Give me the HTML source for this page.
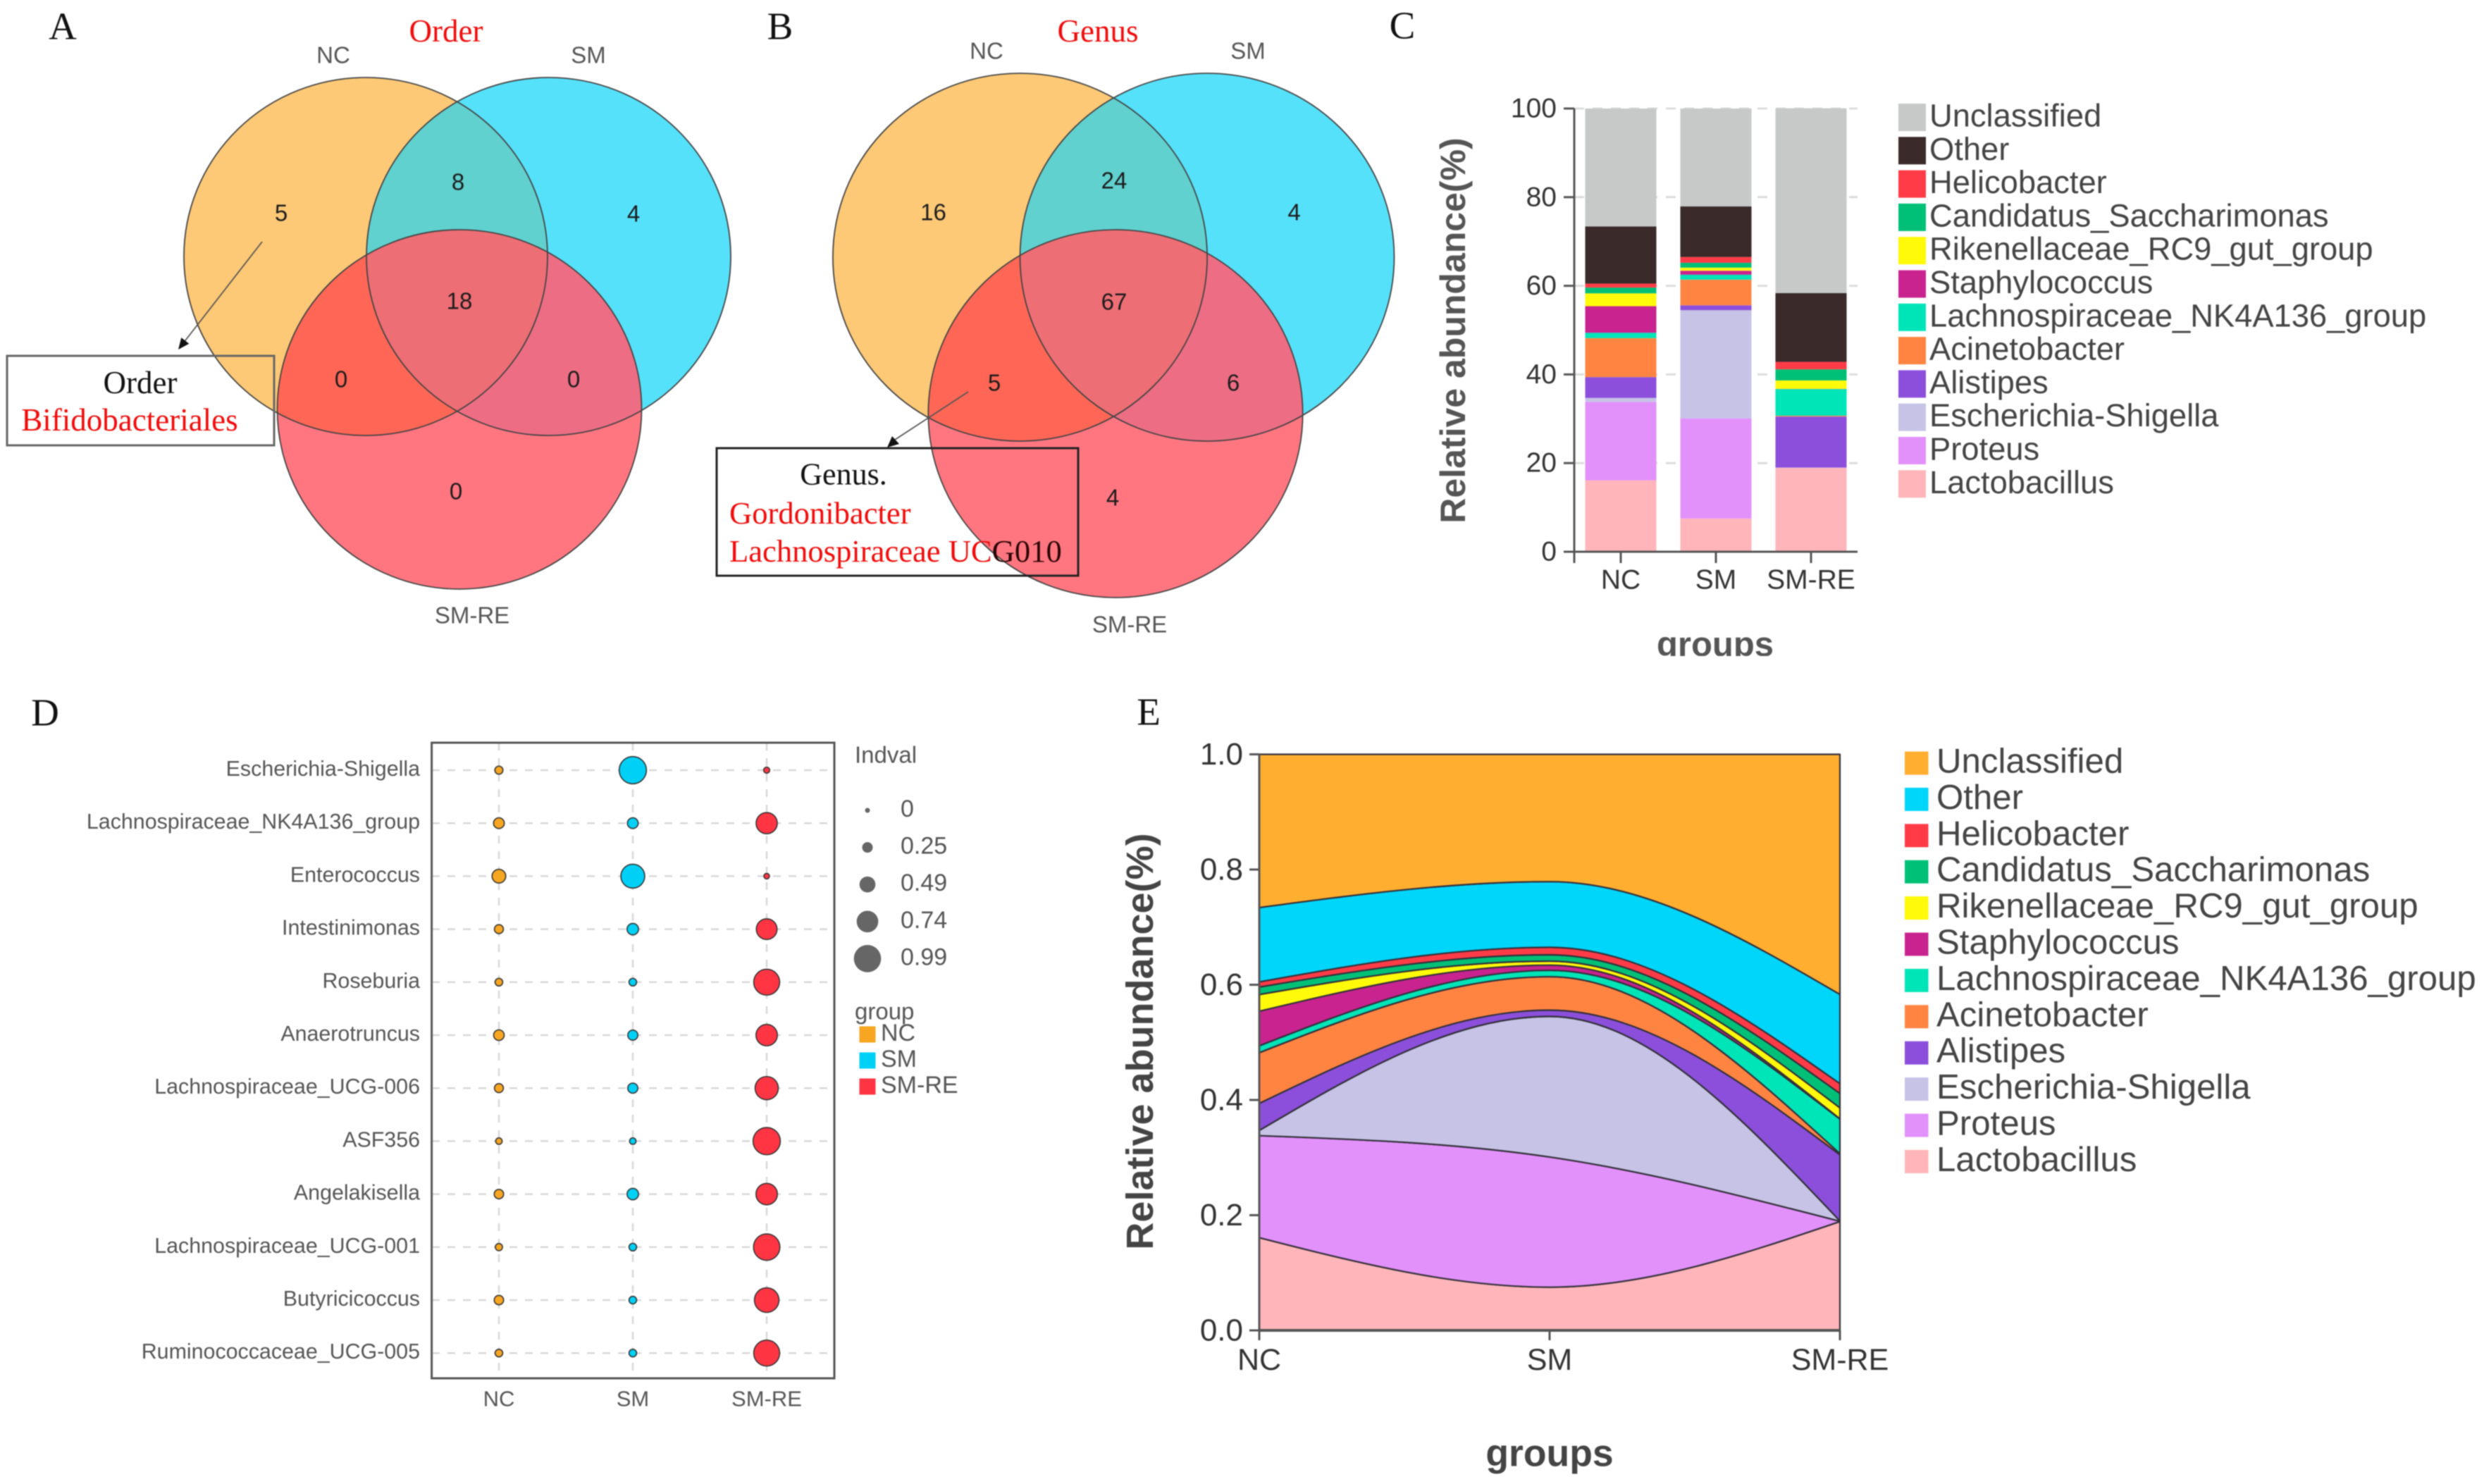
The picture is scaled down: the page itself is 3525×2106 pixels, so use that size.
<!DOCTYPE html>
<html lang="en">
<head>
<meta charset="utf-8">
<title>Microbiome composition figure</title>
<style>
html,body{margin:0;padding:0;background:#fff;}
body{width:3525px;height:2106px;overflow:hidden;}
svg{display:block;filter:blur(0.9px);}
text{font-family:"Liberation Sans",Arial,sans-serif;}
.serif{font-family:"Liberation Serif","Times New Roman",serif;}
.c{text-anchor:middle;dominant-baseline:central;}
.num{font-size:33px;fill:#1c1c1c;}
.vl{font-size:33px;fill:#555;}
.red{fill:#f00b0b;}
.pl{font-size:55px;fill:#111;}
.ln{fill:none;stroke:#444;stroke-width:1.8;}
</style>
</head>
<body>
<svg id="fig" xmlns="http://www.w3.org/2000/svg" width="3525" height="2106" viewBox="0 0 3525 2106">
<rect width="3525" height="2106" fill="#fff"/>
<defs>
<clipPath id="anc"><ellipse cx="519" cy="364" rx="258" ry="254"/></clipPath>
<clipPath id="asm"><ellipse cx="778.5" cy="364" rx="258.5" ry="254"/></clipPath>
<clipPath id="bnc"><ellipse cx="1447.5" cy="365" rx="265.6" ry="261"/></clipPath>
<clipPath id="bsm"><ellipse cx="1713" cy="365" rx="265.5" ry="261"/></clipPath>
</defs>

<!-- Panel A -->
<g>
<text class="serif c pl" x="89" y="37">A</text>
<text class="serif c red" x="633" y="44" font-size="45">Order</text>
<ellipse cx="519" cy="364" rx="258" ry="254" fill="#fdc976"/>
<ellipse cx="778.5" cy="364" rx="258.5" ry="254" fill="#56e1fb"/>
<ellipse cx="652" cy="581" rx="258.5" ry="255" fill="#ff7681"/>
<ellipse cx="778.5" cy="364" rx="258.5" ry="254" fill="#60d1cf" clip-path="url(#anc)"/>
<ellipse cx="652" cy="581" rx="258.5" ry="255" fill="#ff6656" clip-path="url(#anc)"/>
<ellipse cx="652" cy="581" rx="258.5" ry="255" fill="#ed6e84" clip-path="url(#asm)"/>
<g clip-path="url(#anc)"><ellipse cx="652" cy="581" rx="258.5" ry="255" fill="#ee6e75" clip-path="url(#asm)"/></g>
<ellipse class="ln" cx="519" cy="364" rx="258" ry="254"/>
<ellipse class="ln" cx="778.5" cy="364" rx="258.5" ry="254"/>
<ellipse class="ln" cx="652" cy="581" rx="258.5" ry="255"/>
<text class="c vl" x="473" y="78">NC</text>
<text class="c vl" x="835" y="78">SM</text>
<text class="c vl" x="670" y="873">SM-RE</text>
<text class="c num" x="399" y="302">5</text>
<text class="c num" x="650" y="258">8</text>
<text class="c num" x="899" y="303">4</text>
<text class="c num" x="652" y="427">18</text>
<text class="c num" x="484" y="538">0</text>
<text class="c num" x="814" y="538">0</text>
<text class="c num" x="647" y="697">0</text>
<line x1="372" y1="343" x2="260" y2="487" stroke="#555" stroke-width="1.8"/>
<polygon points="253,496 268.3,487.7 257.3,479.1" fill="#111"/>
<rect x="10" y="505" width="379" height="127" fill="none" stroke="#666" stroke-width="3"/>
<text class="serif c" x="199" y="543" font-size="45" fill="#111">Order</text>
<text class="serif c red" x="184" y="596" font-size="45">Bifidobacteriales</text>
</g>

<!-- Panel B -->
<g>
<text class="serif c pl" x="1107" y="37">B</text>
<text class="serif c red" x="1558" y="44" font-size="45">Genus</text>
<ellipse cx="1447.5" cy="365" rx="265.6" ry="261" fill="#fdc976"/>
<ellipse cx="1713" cy="365" rx="265.5" ry="261" fill="#56e1fb"/>
<ellipse cx="1583" cy="587" rx="265.7" ry="261" fill="#ff7681"/>
<ellipse cx="1713" cy="365" rx="265.5" ry="261" fill="#60d1cf" clip-path="url(#bnc)"/>
<ellipse cx="1583" cy="587" rx="265.7" ry="261" fill="#ff6656" clip-path="url(#bnc)"/>
<ellipse cx="1583" cy="587" rx="265.7" ry="261" fill="#ed6e84" clip-path="url(#bsm)"/>
<g clip-path="url(#bnc)"><ellipse cx="1583" cy="587" rx="265.7" ry="261" fill="#ee6e75" clip-path="url(#bsm)"/></g>
<ellipse class="ln" cx="1447.5" cy="365" rx="265.6" ry="261"/>
<ellipse class="ln" cx="1713" cy="365" rx="265.5" ry="261"/>
<ellipse class="ln" cx="1583" cy="587" rx="265.7" ry="261"/>
<text class="c vl" x="1400" y="72">NC</text>
<text class="c vl" x="1771" y="72">SM</text>
<text class="c vl" x="1603" y="886">SM-RE</text>
<text class="c num" x="1324.5" y="301">16</text>
<text class="c num" x="1581" y="256">24</text>
<text class="c num" x="1836.5" y="301">4</text>
<text class="c num" x="1581" y="428">67</text>
<text class="c num" x="1411" y="543">5</text>
<text class="c num" x="1750" y="543">6</text>
<text class="c num" x="1579" y="706">4</text>
<line x1="1374" y1="556" x2="1270" y2="624" stroke="#555" stroke-width="1.8"/>
<polygon points="1259,635 1276,630 1266,619" fill="#111"/>
<rect x="1017" y="636" width="513" height="181" fill="none" stroke="#222" stroke-width="3"/>
<text class="serif c" x="1197" y="673" font-size="44" fill="#111">Genus.</text>
<text class="serif red" x="1035" y="728" dominant-baseline="central" font-size="44.6">Gordonibacter</text>
<text class="serif" x="1035" y="782" dominant-baseline="central" font-size="44.6" fill="#f00b0b">Lachnospiraceae UC<tspan fill="#2a0505">G010</tspan></text>
</g>

<text class="serif c pl" x="1990" y="36">C</text>
<text class="serif c pl" x="64" y="1011">D</text>
<text class="serif c pl" x="1630" y="1010">E</text>

<g id="panelC"></g>
<g id="panelD"></g>
<g id="panelE"></g>
</svg>

<script>
// ---- data (percent; order NC, SM, SM-RE) ----
const groups = ['NC', 'SM', 'SM-RE'];
const taxaLegendOrder = ['Unclassified','Other','Helicobacter','Candidatus_Saccharimonas','Rikenellaceae_RC9_gut_group','Staphylococcus','Lachnospiraceae_NK4A136_group','Acinetobacter','Alistipes','Escherichia-Shigella','Proteus','Lactobacillus'];
const lactobacillus = [16.1, 7.5, 18.9];
const proteus = [17.7, 22.6, 0.05];
const escherichia = [0.9, 24.4, 0.05];
const alistipes = [4.7, 1.1, 11.5];
const acinetobacter = [8.8, 5.8, 0.2];
const lachnospiraceaeNK = [1.2, 1.1, 6.0];
const staphylococcus = [6.0, 0.9, 0.05];
const rikenellaceae = [2.9, 0.7, 1.9];
const saccharimonas = [1.3, 1.1, 2.5];
const helicobacter = [0.9, 1.3, 1.7];
const other = [12.9, 11.4, 15.5];
const unclassified = [26.6, 22.1, 41.7];

const yTicksC = [0, 20, 40, 60, 80, 100];
const yTicksE = [0, 0.2, 0.4, 0.6, 0.8, 1.0];

// Panel D
const indicatorTaxa = ['Escherichia-Shigella','Lachnospiraceae_NK4A136_group','Enterococcus','Intestinimonas','Roseburia','Anaerotruncus','Lachnospiraceae_UCG-006','ASF356','Angelakisella','Lachnospiraceae_UCG-001','Butyricicoccus','Ruminococcaceae_UCG-005'];
const indvalNC = [0.14, 0.26, 0.39, 0.18, 0.12, 0.25, 0.18, 0.07, 0.2, 0.1, 0.2, 0.12];
const indvalSM = [0.99, 0.26, 0.84, 0.29, 0.12, 0.23, 0.23, 0.07, 0.29, 0.12, 0.12, 0.12];
const indvalRE = [0.05, 0.72, 0.03, 0.7, 0.93, 0.73, 0.81, 0.99, 0.73, 0.95, 0.87, 0.93];
const indvalLegendValues = [0, 0.25, 0.49, 0.74, 0.99];

const NS = 'http://www.w3.org/2000/svg';
const colorsC = ['#c6c9c8','#3a2a2a','#ff3b47','#00c078','#fff90a','#c8238f','#00e5b8','#ff8442','#8b4fdb','#c6c3e6','#e291fb','#ffb5b9'];
const colorsE = ['#ffae30','#00d5fa','#ff3b47','#00c078','#fff90a','#c8238f','#00e5b8','#ff8442','#8b4fdb','#c6c3e6','#e291fb','#ffb5b9'];
const groupColors = ['#f7a621','#00d0f5','#ff3543'];
const stackBottomUp = [lactobacillus, proteus, escherichia, alistipes, acinetobacter, lachnospiraceaeNK, staphylococcus, rikenellaceae, saccharimonas, helicobacter, other, unclassified];

function mk(tag, parent, attrs, text) {
  const el = document.createElementNS(NS, tag);
  for (const k in attrs) el.setAttribute(k, attrs[k]);
  if (text !== undefined) el.textContent = text;
  parent.appendChild(el);
  return el;
}
function cumulative(groupIndex) {
  const out = [0];
  let sum = 0;
  stackBottomUp.forEach(function (s) { sum += s[groupIndex]; out.push(sum); });
  return out;
}

// ---- Panel C ----
(function () {
  const g = document.getElementById('panelC');
  const yC = function (v) { return 783 - v * 6.29; };
  const xC = function (i) { return 2300 + i * 135; };
  const barW = 101;
  yTicksC.forEach(function (t) {
    const grid = mk('line', g, {x1:2234, x2:2636, y1:yC(t), y2:yC(t), stroke:'#dcdcdc', 'stroke-width':3, 'stroke-dasharray':'14 12'});
    
    
    const tick = mk('line', g, {x1:2219, x2:2234, y1:yC(t), y2:yC(t), stroke:'#555', 'stroke-width':3});
    
    
    const lab = mk('text', g, {x:2209, y:yC(t), 'text-anchor':'end', 'dominant-baseline':'central', 'font-size':39, fill:'#333'}, String(t));
    
    
  });
  groups.forEach(function (name, i) {
    const cum = cumulative(i);
    stackBottomUp.forEach(function (s, k) {
      const bar = mk('rect', g, {x:xC(i) - barW / 2, width:barW, y:yC(cum[k + 1]), height:Math.max(0, yC(cum[k]) - yC(cum[k + 1])), fill:colorsC[11 - k]});
      
      
    });
    const tick = mk('line', g, {x1:xC(i), x2:xC(i), y1:783, y2:799, stroke:'#555', 'stroke-width':3});
    
    
    const lab = mk('text', g, {x:xC(i), y:823, 'text-anchor':'middle', 'dominant-baseline':'central', 'font-size':39, fill:'#333'}, name);
    
    
  });
  const yAxis = mk('line', g, {x1:2234, x2:2234, y1:yC(100), y2:799, stroke:'#555', 'stroke-width':3});
  
  
  const xAxis = mk('line', g, {x1:2234, x2:2636, y1:783, y2:783, stroke:'#555', 'stroke-width':3});
  
  
  const yTitle = mk('text', g, {transform:'translate(2062 469) rotate(-90)', 'text-anchor':'middle', 'dominant-baseline':'central', 'font-size':50, 'font-weight':'bold', fill:'#555'}, 'Relative abundance(%)');
  
  
  const xTitle = mk('text', g, {x:2434, y:915, 'text-anchor':'middle', 'dominant-baseline':'central', 'font-size':49, 'font-weight':'bold', fill:'#555'}, 'groups');
  
  
  const crop = mk('rect', g, {x:2340, y:931, width:190, height:30, fill:'#fff'});
  
  
  taxaLegendOrder.forEach(function (name, i) {
    const y = 167 + i * 47.3;
    const sw = mk('rect', g, {x:2694, y:y - 20, width:39, height:39, fill:colorsC[i]});
    
    
    const lab = mk('text', g, {x:2738, y:y - 3, 'dominant-baseline':'central', 'font-size':45.3, fill:'#444'}, name);
    
    
  });
})();

// ---- Panel D ----
(function () {
  const g = document.getElementById('panelD');
  const colX = function (i) { return 708 + i * 190; };
  const rowY = function (i) { return 1093 + i * 75.2; };
  const rad = function (v) { return 3.5 + 16 * v; };
  const cols = [indvalNC, indvalSM, indvalRE];
  indicatorTaxa.forEach(function (name, r) {
    const line = mk('line', g, {x1:613, x2:1184, y1:rowY(r), y2:rowY(r), stroke:'#d8d8d8', 'stroke-width':2.5, 'stroke-dasharray':'11 11'});
    
    
    const lab = mk('text', g, {x:596, y:rowY(r) - 2, 'text-anchor':'end', 'dominant-baseline':'central', 'font-size':30.4, fill:'#555'}, name);
    
    
  });
  groups.forEach(function (name, c) {
    const line = mk('line', g, {x1:colX(c), x2:colX(c), y1:1054, y2:1956, stroke:'#d8d8d8', 'stroke-width':2.5, 'stroke-dasharray':'11 11'});
    
    
    const lab = mk('text', g, {x:colX(c), y:1985, 'text-anchor':'middle', 'dominant-baseline':'central', 'font-size':31, fill:'#555'}, name);
    
    
  });
  cols.forEach(function (vals, c) {
    vals.forEach(function (v, r) {
      const dot = mk('circle', g, {cx:colX(c), cy:rowY(r), r:rad(v), fill:groupColors[c], stroke:'#333', 'stroke-width':1.6});
      
      
    });
  });
  const frame = mk('rect', g, {x:612.6, y:1054, width:571.4, height:902, fill:'none', stroke:'#555', 'stroke-width':3});
  
  
  const sizeTitle = mk('text', g, {x:1213, y:1071, 'dominant-baseline':'central', 'font-size':33, fill:'#555'}, 'Indval');
  
  
  indvalLegendValues.forEach(function (v, i) {
    const y = 1150 + i * 52.6;
    const dot = mk('circle', g, {cx:1231, cy:y, r:rad(v), fill:'#666'});
    
    
    const lab = mk('text', g, {x:1278, y:y - 2, 'dominant-baseline':'central', 'font-size':34, fill:'#555'}, String(v));
    
    
  });
  const groupTitle = mk('text', g, {x:1213, y:1435, 'dominant-baseline':'central', 'font-size':33, fill:'#555'}, 'group');
  
  
  groups.forEach(function (name, i) {
    const y = 1468 + i * 37;
    const sw = mk('rect', g, {x:1219.5, y:y - 11.5, width:23, height:23, fill:groupColors[i]});
    
    
    const lab = mk('text', g, {x:1250, y:y - 2, 'dominant-baseline':'central', 'font-size':34, fill:'#555'}, name);
    
    
  });
})();

// ---- Panel E ----
(function () {
  const g = document.getElementById('panelE');
  const x0 = 1787, x1 = 2611, y0 = 1888, y1 = 1070.5;
  const xE = function (i) { return x0 + i * (x1 - x0) / 2; };
  const yE = function (frac) { return y0 - frac * (y0 - y1); };
  function sign(a) { return a < 0 ? -1 : 1; }
  function slopes(ys, h) {
    const s0 = (ys[1] - ys[0]) / h, s1 = (ys[2] - ys[1]) / h;
    const p = (s0 + s1) / 2;
    const m1 = (sign(s0) + sign(s1)) * Math.min(Math.abs(s0), Math.abs(s1), 0.5 * Math.abs(p)) || 0;
    return [(3 * s0 - m1) / 2, m1, (3 * s1 - m1) / 2];
  }
  function curve(ys, forward) {
    const h = (x1 - x0) / 2, m = slopes(ys, h);
    let d = '';
    if (forward) {
      for (let i = 0; i < 2; i++) {
        d += 'C' + (xE(i) + h / 3) + ' ' + (ys[i] + m[i] * h / 3) + ' ' + (xE(i + 1) - h / 3) + ' ' + (ys[i + 1] - m[i + 1] * h / 3) + ' ' + xE(i + 1) + ' ' + ys[i + 1];
      }
    } else {
      for (let i = 2; i > 0; i--) {
        d += 'C' + (xE(i) - h / 3) + ' ' + (ys[i] - m[i] * h / 3) + ' ' + (xE(i - 1) + h / 3) + ' ' + (ys[i - 1] + m[i - 1] * h / 3) + ' ' + xE(i - 1) + ' ' + ys[i - 1];
      }
    }
    return d;
  }
  const cums = groups.map(function (_, i) { return cumulative(i); });
  stackBottomUp.forEach(function (s, k) {
    const lower = cums.map(function (c) { return yE(c[k] / c[12]); });
    const upper = cums.map(function (c) { return yE(c[k + 1] / c[12]); });
    const d = 'M' + xE(0) + ' ' + upper[0] + curve(upper, true) + 'L' + xE(2) + ' ' + lower[2] + curve(lower, false) + 'Z';
    const band = mk('path', g, {d:d, fill:colorsE[11 - k], stroke:'#33303a', 'stroke-width':2.2, 'stroke-linejoin':'round'});
    
    
  });
  const yAxis = mk('line', g, {x1:x0, x2:x0, y1:y1, y2:y0, stroke:'#555', 'stroke-width':3});
  
  
  const xAxis = mk('line', g, {x1:x0, x2:x1, y1:y0, y2:y0, stroke:'#555', 'stroke-width':4});
  
  
  yTicksE.forEach(function (t) {
    const tick = mk('line', g, {x1:1773, x2:x0, y1:yE(t), y2:yE(t), stroke:'#555', 'stroke-width':3});
    
    
    const lab = mk('text', g, {x:1764, y:yE(t), 'text-anchor':'end', 'dominant-baseline':'central', 'font-size':44, fill:'#333'}, t.toFixed(1));
    
    
  });
  groups.forEach(function (name, i) {
    const tick = mk('line', g, {x1:xE(i), x2:xE(i), y1:y0, y2:1902, stroke:'#555', 'stroke-width':3});
    
    
    const lab = mk('text', g, {x:xE(i), y:1930, 'text-anchor':'middle', 'dominant-baseline':'central', 'font-size':43, fill:'#333'}, name);
    
    
  });
  const yTitle = mk('text', g, {transform:'translate(1618 1478) rotate(-90)', 'text-anchor':'middle', 'dominant-baseline':'central', 'font-size':54, 'font-weight':'bold', fill:'#444'}, 'Relative abundance(%)');
  
  
  const xTitle = mk('text', g, {x:2199, y:2063, 'text-anchor':'middle', 'dominant-baseline':'central', 'font-size':53.5, 'font-weight':'bold', fill:'#444'}, 'groups');
  
  
  taxaLegendOrder.forEach(function (name, i) {
    const y = 1083 + i * 51.4;
    const sw = mk('rect', g, {x:2703, y:y - 16.5, width:33.5, height:33, fill:colorsE[i]});
    
    
    const lab = mk('text', g, {x:2748, y:y - 3, 'dominant-baseline':'central', 'font-size':49.2, fill:'#444'}, name);
    
    
  });
})();
</script>
</body>
</html>
